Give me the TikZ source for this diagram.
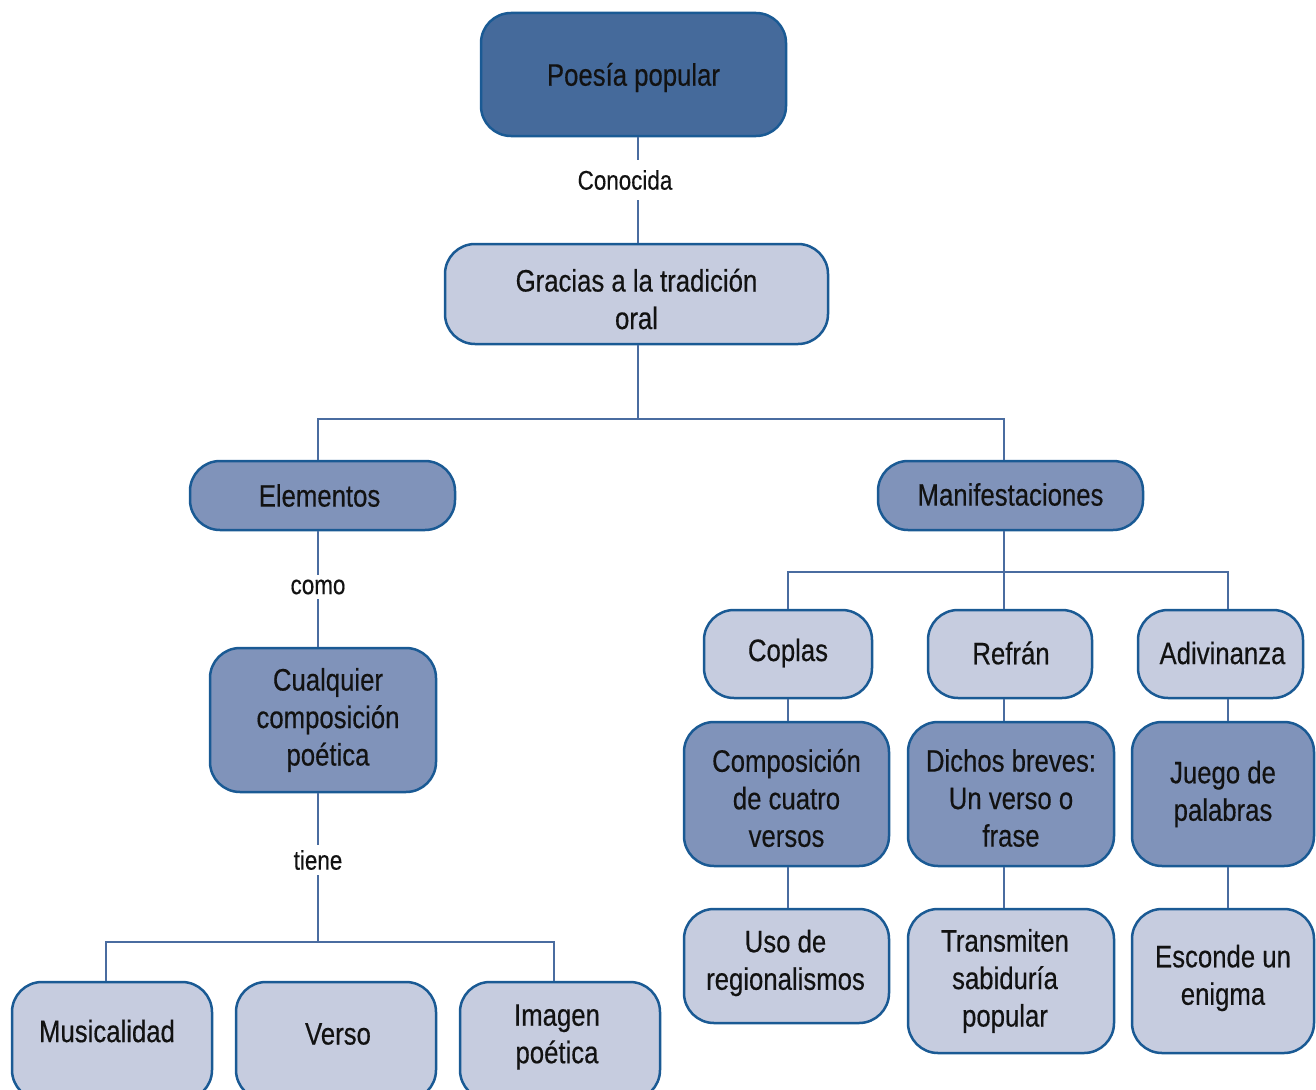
\documentclass[tikz,border=0pt]{standalone}
\usepackage{fontspec}
\setmainfont{Liberation Sans}[FakeStretch=0.83,FakeBold=0.4]
\definecolor{cdark}{HTML}{456A9B}
\definecolor{cmid}{HTML}{8093BA}
\definecolor{clight}{HTML}{C6CCDF}
\definecolor{bord}{HTML}{1A5A94}
\definecolor{conn}{HTML}{4A6CA0}
\definecolor{txt}{HTML}{121212}
\begin{document}
\begin{tikzpicture}[x=1pt,y=-1pt,
  box/.style={draw=bord, line width=2.5pt, rounded corners=30pt, inner sep=0pt},
  dbox/.style={box, fill=cdark},
  mbox/.style={box, fill=cmid},
  lbox/.style={box, fill=clight},
  tx/.style={align=center, text=txt, inner sep=0pt, font=\fontsize{31}{37.5}\selectfont},
  link/.style={draw=conn, line width=2pt},
  lbl/.style={fill=white, text=txt, inner sep=5pt, font=\fontsize{27}{32}\selectfont}]
\useasboundingbox (0,0) rectangle (1316,1089);
\clip (0,0) rectangle (1316,1089);
% boxes (text placed as centred labels, nudged to match)
\node[dbox, minimum width=305, minimum height=123,
  label={[tx, name=poesiaT, yshift=-3pt]center:{Poesía popular}}] (poesia) at (633.5,74.5) {};
\node[lbox, minimum width=383, minimum height=100,
  label={[tx, name=graciasT, yshift=-5pt]center:{Gracias a la tradición\\oral}}] (gracias) at (636.5,294) {};
\node[mbox, minimum width=265, minimum height=69,
  label={[tx, name=elemT, xshift=-3pt]center:{Elementos}}] (elem) at (322.5,495.5) {};
\node[mbox, minimum width=265, minimum height=69,
  label={[tx, name=manifT, yshift=1pt]center:{Manifestaciones}}] (manif) at (1010.5,495.5) {};
\node[mbox, minimum width=226, minimum height=144,
  label={[tx, name=cualT, xshift=5pt]center:{Cualquier\\composición\\poética}}] (cual) at (323,720) {};
\node[lbox, minimum width=200, minimum height=118,
  label={[tx, name=musiT, xshift=-5pt, yshift=10pt]center:{Musicalidad}}] (musi) at (112,1041) {};
\node[lbox, minimum width=200, minimum height=118,
  label={[tx, name=versoT, xshift=2pt, yshift=7pt]center:{Verso}}] (verso) at (336,1041) {};
\node[lbox, minimum width=200, minimum height=118,
  label={[tx, name=imagenT, xshift=-3pt, yshift=4pt]center:{Imagen\\poética}}] (imagen) at (560,1041) {};
\node[lbox, minimum width=168, minimum height=88,
  label={[tx, name=coplasT, yshift=1pt]center:{Coplas}}] (coplas) at (788,654) {};
\node[lbox, minimum width=164, minimum height=88,
  label={[tx, name=refranT, xshift=1pt, yshift=1pt]center:{Refrán}}] (refran) at (1010,654) {};
\node[lbox, minimum width=165, minimum height=88,
  label={[tx, name=adivT, xshift=2pt, yshift=1pt]center:{Adivinanza}}] (adiv) at (1220.5,654) {};
\node[mbox, minimum width=205, minimum height=144,
  label={[tx, name=compT, yshift=-4pt]center:{Composición\\de cuatro\\versos}}] (comp) at (786.5,794) {};
\node[mbox, minimum width=206, minimum height=144,
  label={[tx, name=dichosT, yshift=-4pt]center:{Dichos breves:\\Un verso o\\frase}}] (dichos) at (1011,794) {};
\node[mbox, minimum width=182, minimum height=144,
  label={[tx, name=juegoT]center:{Juego de\\palabras}}] (juego) at (1223,794) {};
\node[lbox, minimum width=205, minimum height=114,
  label={[tx, name=usoT, xshift=-1pt, yshift=3pt]center:{Uso de\\regionalismos}}] (uso) at (786.5,966) {};
\node[lbox, minimum width=206, minimum height=144,
  label={[tx, name=transT, xshift=-6pt]center:{Transmiten\\sabiduría\\popular}}] (trans) at (1011,981) {};
\node[lbox, minimum width=182, minimum height=144,
  label={[tx, name=escondeT, yshift=3pt]center:{Esconde un\\enigma}}] (esconde) at (1223,981) {};
% bus coordinates
\coordinate (xA) at (638,419);
\coordinate (bL) at (318,419);
\coordinate (bR) at (1004,419);
\coordinate (bT) at (318,942);
\coordinate (bTL) at (106,942);
\coordinate (bTR) at (554,942);
\coordinate (rM) at (1004,572);
\coordinate (rL) at (788,572);
\coordinate (rR) at (1228,572);
% connectors
\draw[link] (poesia.south -| xA) -- (gracias.north -| xA);
\draw[link] (gracias.south -| xA) -- (xA);
\draw[link] (elem.north -| bL) -- (bL) -- (bR) -- (manif.north -| bR);
\draw[link] (elem.south -| bL) -- (cual.north -| bL);
\draw[link] (cual.south -| bT) -- (bT);
\draw[link] (musi.north -| bTL) -- (bTL) -- (bTR) -- (imagen.north -| bTR);
\draw[link] (manif.south -| rM) -- (refran.north -| rM);
\draw[link] (coplas.north -| rL) -- (rL) -- (rR) -- (adiv.north -| rR);
\draw[link] (coplas.south -| rL) -- (comp.north -| rL);
\draw[link] (refran.south -| rM) -- (dichos.north -| rM);
\draw[link] (adiv.south -| rR) -- (juego.north -| rR);
\draw[link] (comp.south -| rL) -- (uso.north -| rL);
\draw[link] (dichos.south -| rM) -- (trans.north -| rM);
\draw[link] (juego.south -| rR) -- (esconde.north -| rR);
% labels
\node[lbl, inner ysep=10pt] (conocida) at (625,180) {Conocida};
\node[lbl] (como) at (318,587) {como};
\node[lbl] (tiene) at (318,860) {tiene};
\end{tikzpicture}
\end{document}
